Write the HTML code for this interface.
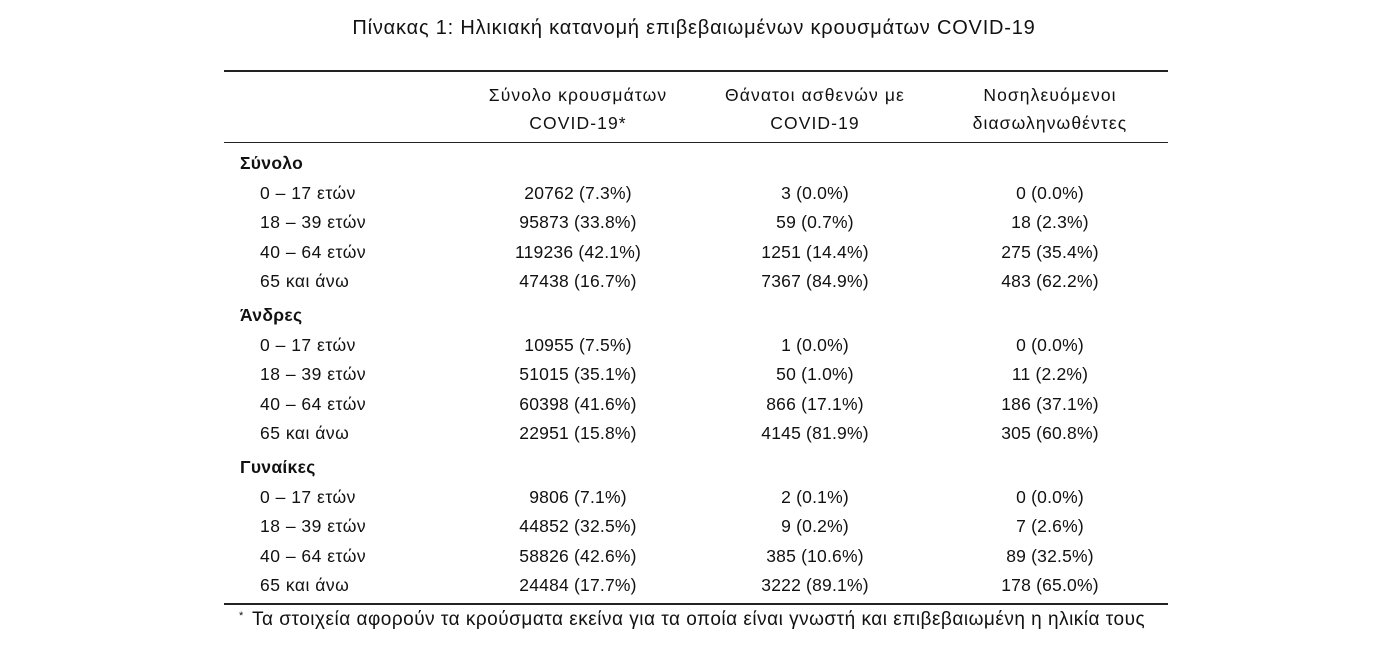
<!DOCTYPE html>
<html><head><meta charset="utf-8"><style>
body{margin:0;width:1374px;height:660px;background:#fff;position:relative;font-family:"Liberation Sans","DejaVu Sans",sans-serif;color:#111;overflow:hidden}
.t{position:absolute;font-size:17.5px;letter-spacing:1.1px;line-height:20px;white-space:nowrap}
.d{letter-spacing:0.2px}
.l{letter-spacing:0.5px}
.c{transform:translateX(-50%)}
.b{font-weight:bold}
.r{position:absolute;left:224px;width:944px;background:#222}
</style></head><body>
<div class="t c" style="left:694px;top:16px;font-size:20px;letter-spacing:0.8px;line-height:24px">Πίνακας 1: Ηλικιακή κατανομή επιβεβαιωμένων κρουσμάτων COVID-19</div>
<div class="r" style="top:70px;height:2px"></div>
<div class="r" style="top:142px;height:1px"></div>
<div class="r" style="top:603px;height:2px"></div>
<div class="t c" style="left:578px;top:85px">Σύνολο κρουσμάτων</div>
<div class="t c" style="left:578px;top:113px">COVID-19*</div>
<div class="t c" style="left:815px;top:85px">Θάνατοι ασθενών με</div>
<div class="t c" style="left:815px;top:113px">COVID-19</div>
<div class="t c" style="left:1050px;top:85px">Νοσηλευόμενοι</div>
<div class="t c" style="left:1050px;top:113px">διασωληνωθέντες</div>
<div id="rows"></div>
<div class="t" style="left:239px;top:606px;font-size:11px;letter-spacing:0">*</div>
<div class="t" style="left:252px;top:609px;font-size:19px;letter-spacing:0.5px;line-height:22px">Τα στοιχεία αφορούν τα κρούσματα εκείνα για τα οποία είναι γνωστή και επιβεβαιωμένη η ηλικία τους</div>
<script>
var secs=[["Σύνολο",153,[["20762 (7.3%)","3 (0.0%)","0 (0.0%)"],["95873 (33.8%)","59 (0.7%)","18 (2.3%)"],["119236 (42.1%)","1251 (14.4%)","275 (35.4%)"],["47438 (16.7%)","7367 (84.9%)","483 (62.2%)"]]],
["Άνδρες",305,[["10955 (7.5%)","1 (0.0%)","0 (0.0%)"],["51015 (35.1%)","50 (1.0%)","11 (2.2%)"],["60398 (41.6%)","866 (17.1%)","186 (37.1%)"],["22951 (15.8%)","4145 (81.9%)","305 (60.8%)"]]],
["Γυναίκες",457,[["9806 (7.1%)","2 (0.1%)","0 (0.0%)"],["44852 (32.5%)","9 (0.2%)","7 (2.6%)"],["58826 (42.6%)","385 (10.6%)","89 (32.5%)"],["24484 (17.7%)","3222 (89.1%)","178 (65.0%)"]]]];
var labs=["0 – 17 ετών","18 – 39 ετών","40 – 64 ετών","65 και άνω"];
var h="";
secs.forEach(function(s){
h+='<div class="t b" style="left:240px;top:'+s[1]+'px;letter-spacing:0.3px">'+s[0]+'</div>';
s[2].forEach(function(r,i){var y=s[1]+29.5*(i+1);
h+='<div class="t l" style="left:260px;top:'+y+'px">'+labs[i]+'</div>';
[578,815,1050].forEach(function(x,j){h+='<div class="t c d" style="left:'+x+'px;top:'+y+'px">'+r[j]+'</div>';});
});});
document.getElementById("rows").innerHTML=h;
</script>
</body></html>
